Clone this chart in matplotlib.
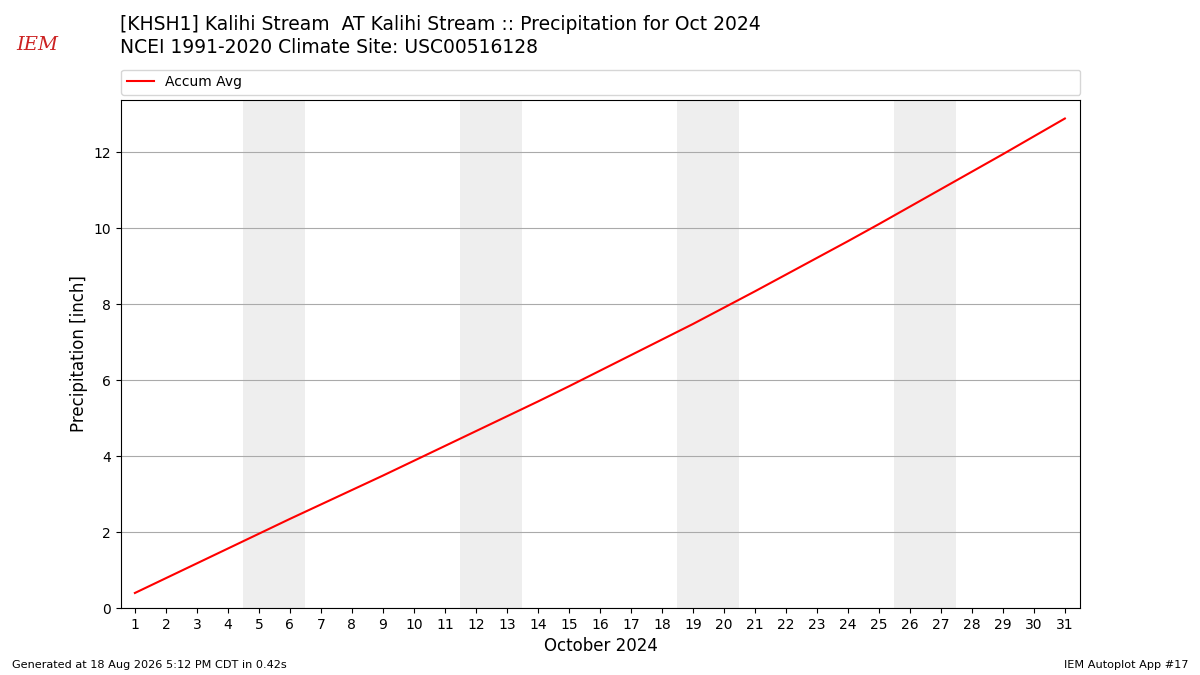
import matplotlib
matplotlib.use("Agg")
import matplotlib.pyplot as plt

days = list(range(1, 32))
accum_avg = [0.40, 0.79, 1.18, 1.57, 1.96, 2.35, 2.73, 3.11, 3.49, 3.88,
             4.27, 4.66, 5.05, 5.44, 5.84, 6.25, 6.66, 7.07, 7.48, 7.91,
             8.34, 8.78, 9.22, 9.66, 10.11, 10.57, 11.03, 11.49, 11.95, 12.42,
             12.89]
weekends = [(5, 6), (12, 13), (19, 20), (26, 27)]

title_lines = ["[KHSH1] Kalihi Stream  AT Kalihi Stream :: Precipitation for Oct 2024",
               "NCEI 1991-2020 Climate Site: USC00516128"]

fig = plt.figure(figsize=(12, 6.75), dpi=100)
ax = fig.add_axes([0.1008, 0.099, 0.7995, 0.753])

for a, b in weekends:
    ax.axvspan(a - 0.5, b + 0.5, color="#EEEEEE", lw=0, zorder=0)

ax.plot(days, accum_avg, color="red", lw=1.5, label="Accum Avg", zorder=3)

ax.set_xlim(0.55, 31.5)
ax.set_ylim(0, 13.38)
ax.set_xticks(days)
ax.set_xticklabels([str(d) for d in days])
ax.set_yticks([0, 2, 4, 6, 8, 10, 12])
ax.yaxis.grid(True, color="#AAAAAA", lw=0.8, zorder=1)
ax.set_axisbelow(True)
ax.tick_params(labelsize=10)
ax.set_xlabel("October 2024", fontsize=12)
ax.set_ylabel("Precipitation [inch]", fontsize=12)

ax.legend(loc="lower left", bbox_to_anchor=(0, 1.01, 1, 0.05), mode="expand",
          ncol=1, fontsize=10, frameon=True, borderaxespad=0)

fig.text(0.1, 0.963, title_lines[0], fontsize=13.5, va="center", ha="left")
fig.text(0.1, 0.929, title_lines[1], fontsize=13.5, va="center", ha="left")

fig.text(0.031, 0.933, "IEM", fontsize=14, color="#CC2222", family="DejaVu Serif",
         style="italic", ha="center", va="center")

fig.text(0.01, 0.015, "Generated at 18 Aug 2026 5:12 PM CDT in 0.42s", fontsize=8.1,
         ha="left", va="center")
fig.text(0.99, 0.015, "IEM Autoplot App #17", fontsize=8.1, ha="right", va="center")

fig.savefig("out.png", dpi=100)
